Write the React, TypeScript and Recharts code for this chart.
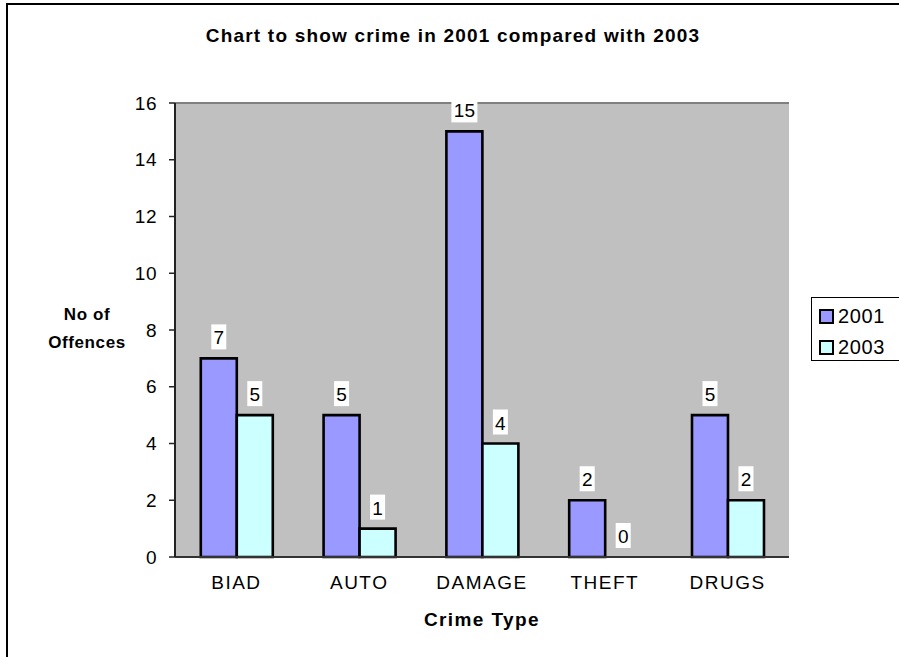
import React from "react";
import {
  BarChart,
  Bar,
  XAxis,
  YAxis,
  CartesianGrid,
  LabelList,
  ReferenceLine,
  Cell,
} from "recharts";

const categories = ["BIAD", "AUTO", "DAMAGE", "THEFT", "DRUGS"];
const crimes2001 = [7, 5, 15, 2, 5];
const crimes2003 = [5, 1, 4, 0, 2];
const yTicks = [0, 2, 4, 6, 8, 10, 12, 14, 16];
const boundaryTicks = [0, 1, 2, 3, 4, 5];

const data = categories.map((name, i) => ({
  name,
  y2001: crimes2001[i],
  y2003: crimes2003[i],
}));

const FONT = "Arial, 'Liberation Sans', sans-serif";

// white boxed value label sitting above each bar
const ValueLabel = (props: any) => {
  const { x, y, width, height, value } = props;
  const cx = Number(x) + Number(width) / 2;
  const top = Math.min(Number(y), Number(y) + Number(height));
  const txt = String(value);
  const w = txt.length * 11 + 4;
  const h = 25;
  const bottom = (value === 0 ? Number(y) + Number(height) : top) - 9;
  return (
    <g>
      <rect x={cx - w / 2} y={bottom - h} width={w} height={h} fill="#fff" />
      <text
        x={cx}
        y={bottom - h / 2 + 1}
        textAnchor="middle"
        dominantBaseline="central"
        fontSize={19}
        fontFamily={FONT}
        fill="#000"
      >
        {txt}
      </text>
    </g>
  );
};

const legendItems = [
  { label: "2001", color: "#9999FF" },
  { label: "2003", color: "#CCFFFF" },
];

const App: React.FC = () => {
  return (
    <div
      style={{
        position: "absolute",
        left: 0,
        top: 0,
        width: 899,
        height: 657,
        overflow: "hidden",
        background: "#fff",
        fontFamily: FONT,
      }}
    >
      {/* chart frame, right and bottom edges fall outside the picture */}
      <div
        style={{
          position: "absolute",
          left: 6,
          top: 3,
          width: 1000,
          height: 800,
          borderLeft: "2px solid #000",
          borderTop: "2px solid #000",
        }}
      />
      <div
        style={{
          position: "absolute",
          left: 0,
          width: 906,
          top: 25,
          textAlign: "center",
          fontSize: 19,
          fontWeight: "bold",
          letterSpacing: 1.2,
        }}
      >
        Chart to show crime in 2001 compared with 2003
      </div>
      <div
        style={{
          position: "absolute",
          left: 27,
          width: 120,
          top: 301,
          textAlign: "center",
          fontSize: 17,
          fontWeight: "bold",
          lineHeight: "28px",
          letterSpacing: 0.6,
        }}
      >
        No of
        <br />
        Offences
      </div>
      <div
        style={{
          position: "absolute",
          left: 382,
          width: 200,
          top: 609,
          textAlign: "center",
          fontSize: 19,
          fontWeight: "bold",
          letterSpacing: 1.4,
        }}
      >
        Crime Type
      </div>
      <div
        style={{
          position: "absolute",
          left: 811,
          top: 297,
          width: 100,
          height: 64,
          border: "1px solid #000",
          boxSizing: "border-box",
          paddingTop: 5,
        }}
      >
        {legendItems.map((it) => (
          <div
            key={it.label}
            style={{ display: "flex", alignItems: "center", height: 27, marginBottom: 4 }}
          >
            <span
              style={{
                display: "inline-block",
                width: 11,
                height: 11,
                marginLeft: 7,
                marginRight: 4,
                background: it.color,
                border: "2px solid #000",
              }}
            />
            <span style={{ fontSize: 20, letterSpacing: 0.6 }}>{it.label}</span>
          </div>
        ))}
      </div>
      <div style={{ position: "absolute", left: 0, top: 0 }}>
        <BarChart
          width={899}
          height={657}
          data={data}
          margin={{ top: 103, right: 110, bottom: 70, left: 115 }}
          barGap={0}
          barCategoryGap="21%"
        >
          <CartesianGrid
            horizontal={false}
            vertical={false}
            fill="#C0C0C0"
            fillOpacity={1}
          />
          <XAxis
            dataKey="name"
            xAxisId="cat"
            tickLine={false}
            axisLine={{ stroke: "#333", strokeWidth: 2 }}
            tickSize={6}
            tickMargin={13}
            height={30}
            tick={{ fill: "#000", fontSize: 19, fontFamily: FONT, letterSpacing: 1.5 }}
          />
          <XAxis
            xAxisId="grid"
            type="number"
            domain={[0, 5]}
            ticks={boundaryTicks}
            tick={false}
            axisLine={false}
            tickSize={6}
            tickLine={{ stroke: "#333", strokeWidth: 1.5 }}
            height={0}
            allowDataOverflow
          />
          <YAxis
            domain={[0, 16]}
            ticks={yTicks}
            interval={0}
            width={60}
            tickSize={6}
            tickMargin={12}
            axisLine={{ stroke: "#222", strokeWidth: 2 }}
            tickLine={{ stroke: "#222", strokeWidth: 1.5 }}
            tick={{ fill: "#000", fontSize: 19, fontFamily: FONT, letterSpacing: 0.5 }}
          />
          <ReferenceLine y={16} xAxisId="cat" stroke="#808080" strokeWidth={2} />
          <ReferenceLine x={5} xAxisId="grid" stroke="#808080" strokeWidth={2} />
          <Bar
            dataKey="y2001"
            xAxisId="cat"
            fill="#9999FF"
            stroke="#000"
            strokeWidth={2.6}
            isAnimationActive={false}
          >
            <LabelList dataKey="y2001" content={ValueLabel} />
          </Bar>
          <Bar
            dataKey="y2003"
            xAxisId="cat"
            fill="#CCFFFF"
            stroke="#000"
            strokeWidth={2.6}
            minPointSize={1}
            isAnimationActive={false}
          >
            {crimes2003.map((v, i) => (
              <Cell
                key={i}
                fill={v === 0 ? "transparent" : "#CCFFFF"}
                stroke={v === 0 ? "none" : "#000"}
              />
            ))}
            <LabelList dataKey="y2003" content={ValueLabel} />
          </Bar>
        </BarChart>
      </div>
    </div>
  );
};

export default App;
